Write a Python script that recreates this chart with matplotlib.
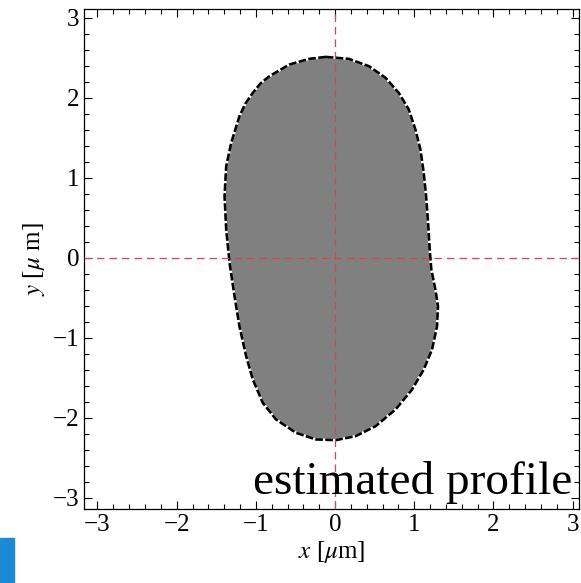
import matplotlib

matplotlib.use("Agg")
import matplotlib.pyplot as plt
from matplotlib.patches import Rectangle
from matplotlib.ticker import MultipleLocator

plt.rcParams["font.family"] = "serif"
plt.rcParams["font.serif"] = ["Liberation Serif", "DejaVu Serif"]
plt.rcParams["mathtext.fontset"] = "stix"
plt.rcParams["axes.unicode_minus"] = True

# estimated cell profile, boundary points in um (clockwise from the top)
x_prof = [-0.117, 0.176, 0.428, 0.638, 0.805, 0.931, 1.015, 1.078, 1.120, 1.150,
          1.175, 1.195, 1.216, 1.267, 1.300, 1.288, 1.225, 1.120, 0.973, 0.764,
          0.512, 0.260, 0.009, -0.243, -0.494, -0.746, -0.913, -1.039, -1.123,
          -1.208, -1.270, -1.333, -1.375, -1.396, -1.375, -1.312, -1.208, -1.132,
          -1.039, -0.943, -0.830, -0.579, -0.327]
y_prof = [2.512, 2.487, 2.395, 2.250, 2.062, 1.854, 1.604, 1.354, 1.062, 0.770,
          0.437, 0.104, -0.146, -0.396, -0.605, -0.855, -1.146, -1.396, -1.646,
          -1.896, -2.105, -2.230, -2.280, -2.271, -2.188, -2.021, -1.813, -1.521,
          -1.230, -0.855, -0.480, -0.062, 0.354, 0.770, 1.145, 1.437, 1.770,
          1.929, 2.062, 2.179, 2.270, 2.416, 2.487]

ticks = [-3, -2, -1, 0, 1, 2, 3]
label = "estimated profile"

fig = plt.figure(figsize=(5.81, 5.83), dpi=100)
ax = fig.add_axes([84 / 581, 74 / 583, 495 / 581, 500 / 583])

ax.fill(x_prof, y_prof, color="#808080", zorder=2)
xs = x_prof + x_prof[:1]
ys = y_prof + y_prof[:1]
ax.plot(xs, ys, color="black", lw=1.8, linestyle=(0, (3, 1.0)),
        gapcolor="white", zorder=3, solid_joinstyle="round")

ax.axvline(0, color="#e0404f", lw=0.9, linestyle=(0, (6, 4)), zorder=4)
ax.axhline(0, color="#e0404f", lw=0.9, linestyle=(0, (6, 4)), zorder=4)

ax.set_xlim(-3.17, 3.08)
ax.set_ylim(-3.14, 3.11)
ax.set_xticks(ticks)
ax.set_yticks(ticks)
ax.xaxis.set_minor_locator(MultipleLocator(0.2))
ax.yaxis.set_minor_locator(MultipleLocator(0.2))
ax.tick_params(which="both", direction="in", top=True, right=True,
               labelsize=18, width=0.8)
ax.tick_params(which="major", length=6)
ax.tick_params(which="minor", length=3.5)
for s in ax.spines.values():
    s.set_linewidth(0.9)

ax.set_xlabel(r"$x$ [$\mu$m]", fontsize=18, labelpad=2)
ax.set_ylabel(r"$y$ [$\mu$ m]", fontsize=18, labelpad=4)

ax.text(0.986, 0.03, label, transform=ax.transAxes, ha="right",
        va="baseline", fontsize=34, zorder=5)

# stray icon in the lower left corner
fig.patches.append(Rectangle((0, 0), 14 / 581, 45 / 583, transform=fig.transFigure,
                             color="#1b8ad6", zorder=0))

fig.savefig("out.png", dpi=100)
